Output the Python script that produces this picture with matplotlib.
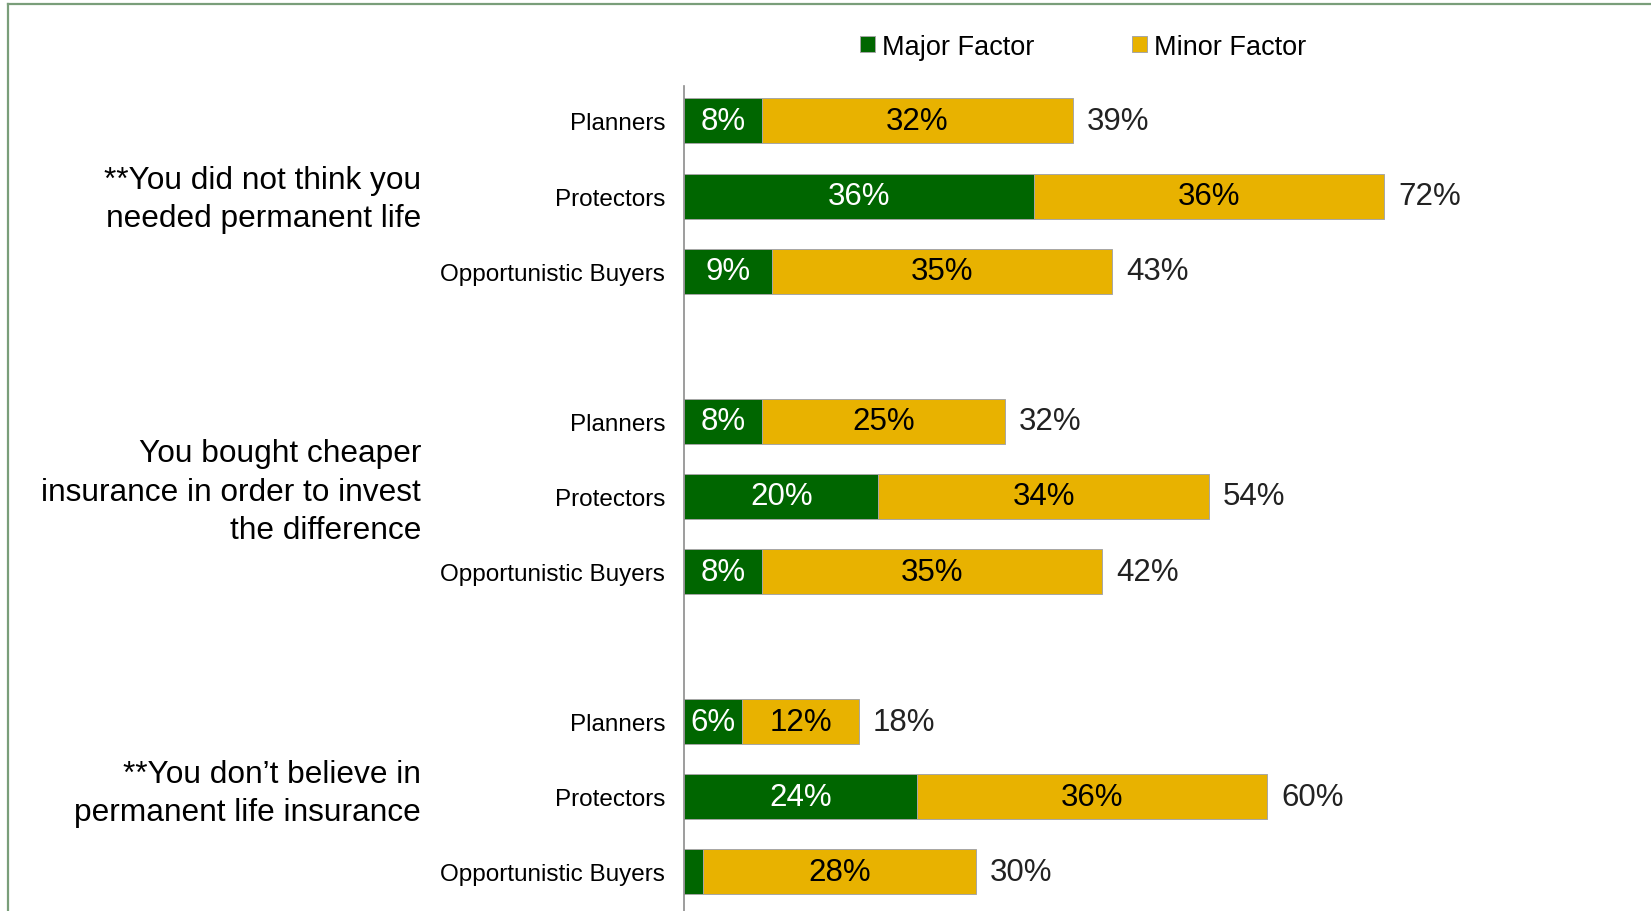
import matplotlib.pyplot as plt
from matplotlib.lines import Line2D
import numpy as np

plt.rcParams['font.family'] = ['Liberation Sans', 'DejaVu Sans']

segments = ["Planners", "Protectors", "Opportunistic Buyers"]
reasons = [
    "**You did not think you\nneeded permanent life",
    "You bought cheaper\ninsurance in order to invest\nthe difference",
    "**You don\u2019t believe in\npermanent life insurance",
]
major = [8, 36, 9, 8, 20, 8, 6, 24, 2]
minor = [32, 36, 35, 25, 34, 35, 12, 36, 28]
totals = [39, 72, 43, 32, 54, 42, 18, 60, 30]

green = "#006600"
gold = "#E8B200"
edge = "#A6A6A6"

fig = plt.figure(figsize=(16.51, 9.12), dpi=100)
ax = fig.add_axes([0.4143, 0.0, 0.589, 0.905])

# three bars per reason, one empty slot between reason groups
pos = np.array([g * 4 + i for g in range(len(reasons)) for i in range(len(segments))])
major = np.array(major)
minor = np.array(minor)

ax.barh(pos, major, height=0.6, color=green, edgecolor=edge, linewidth=0.7,
        label="Major Factor")
ax.barh(pos, minor, left=major, height=0.6, color=gold, edgecolor=edge,
        linewidth=0.7, label="Minor Factor")

for y, a, b, t in zip(pos, major, minor, totals):
    if a >= 5:
        ax.text(a / 2, y, f"{a}%", ha="center", va="center", color="white",
                fontsize=22.5)
    ax.text(a + b / 2, y, f"{b}%", ha="center", va="center", color="black",
            fontsize=22.5)
    ax.annotate(f"{t}%", (a + b, y), xytext=(10, 0), textcoords="offset points",
                ha="left", va="center", fontsize=22.5, color="#222222")

ax.set_xlim(0, 100)
ax.set_ylim(10.52, -0.47)
ax.set_yticks(pos)
ax.set_yticklabels(segments * len(reasons), fontsize=17.5)
ax.tick_params(axis="y", length=0, pad=13.5)
ax.set_xticks([])
for s in ["top", "right", "bottom"]:
    ax.spines[s].set_visible(False)
ax.spines["left"].set_color("#8C8C8C")
ax.spines["left"].set_linewidth(1.2)

# reason text to the left of each group
for g, (txt, dy) in enumerate(zip(reasons, [0.035, -0.065, -0.055])):
    ax.text(-0.2705, g * 4 + 1 + dy, txt, transform=ax.get_yaxis_transform(),
            ha="right", va="center", fontsize=22.8, linespacing=1.36)

fig.legend(loc="center", bbox_to_anchor=(0.656, 0.9475), ncol=2, frameon=False,
           fontsize=19.5, handlelength=0.55, handleheight=0.55,
           handletextpad=0.25, columnspacing=3.6)

# slide frame along the top and left edges
frame = "#7A9E7A"
fig.add_artist(Line2D([0.0049, 1.0], [0.994, 0.994], color=frame, lw=1.6,
                      transform=fig.transFigure))
fig.add_artist(Line2D([0.0049, 0.0049], [0.0, 0.994], color=frame, lw=1.6,
                      transform=fig.transFigure))

fig.savefig("out.png", dpi=100)
